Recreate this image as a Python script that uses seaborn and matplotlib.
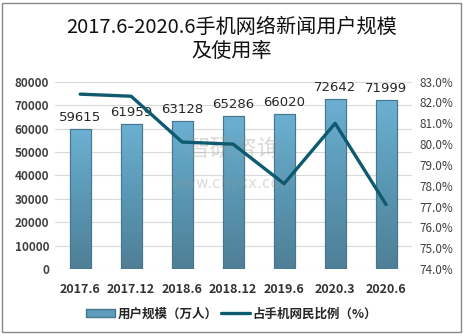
import numpy as np
import pandas as pd
import matplotlib
matplotlib.use("Agg")
import matplotlib.pyplot as plt
import seaborn as sns
from matplotlib.patches import Rectangle
from matplotlib.lines import Line2D
from matplotlib.ticker import FuncFormatter
from matplotlib.colors import LinearSegmentedColormap

categories = ["2017.6", "2017.12", "2018.6", "2018.12", "2019.6", "2020.3", "2020.6"]
users = [59615, 61959, 63128, 65286, 66020, 72642, 71999]
rate = [82.4, 82.3, 80.1, 80.0, 78.1, 81.0, 77.1]
title = "2017.6-2020.6手机网络新闻用户规模\n及使用率"
bar_label = "用户规模（万人）"
line_label = "占手机网民比例（%）"

sns.set_theme(style="white")
plt.rcParams['font.family'] = ['Noto Sans CJK SC', 'DejaVu Sans']

df = pd.DataFrame({"cat": categories, "users": users, "rate": rate})

fig = plt.figure(figsize=(4.63, 3.36), dpi=100)
ax = fig.add_axes([0.118, 0.199, 0.771, 0.558])

sns.barplot(data=df, x="cat", y="users", ax=ax, color="#5d9dbb", width=0.41,
            edgecolor="#3f6f85", linewidth=0.8, saturation=1, zorder=3)
ax.set_ylim(0, 80000)
ax.set_yticks(np.arange(0, 80001, 10000))
ax.grid(axis="y", color="#d9d9d9", linewidth=0.8, zorder=0)
ax.set_axisbelow(True)
for s in ax.spines.values():
    s.set_visible(False)
ax.set_xlabel("")
ax.set_ylabel("")

# gradient fill on bars
grad = np.linspace(0, 1, 256).reshape(-1, 1)
cmap = LinearSegmentedColormap.from_list("g", ["#4f7f96", "#5a97b4", "#6cb0d2"])
for p in list(ax.patches):
    x0, y0 = p.get_x(), p.get_y()
    w, h = p.get_width(), p.get_height()
    im = ax.imshow(grad, extent=[x0, x0 + w, y0, y0 + h], origin="lower",
                   cmap=cmap, aspect="auto", zorder=3.5)
    im.set_clip_path(p)
    ax.add_patch(Rectangle((x0, y0), w, h, fill=False, edgecolor="#46778d",
                           linewidth=0.8, zorder=3.6))
ax.set_xlim(-0.5, len(categories) - 0.5)
ax.set_ylim(0, 80000)

for i, v in enumerate(users):
    ax.text(i, v + 2200, str(v), ha="center", va="bottom", fontsize=9.5,
            color="#262626", family=['DejaVu Sans'], zorder=6)

ax.tick_params(axis="both", length=0, pad=4)
for lab in ax.get_xticklabels():
    lab.set_fontsize(9)
    lab.set_fontweight("bold")
    lab.set_color("#333333")
ax.tick_params(axis="x", pad=10)
for lab in ax.get_yticklabels():
    lab.set_fontsize(8.5)
    lab.set_fontweight("bold")
    lab.set_color("#404040")

ax2 = ax.twinx()
sns.lineplot(x=np.arange(len(categories)), y=rate, ax=ax2, color="#0e5a6f",
             linewidth=2.4, zorder=5)
ax2.set_ylim(74, 83)
ax2.set_yticks(np.arange(74, 83.01, 1))
ax2.yaxis.set_major_formatter(FuncFormatter(lambda v, p: f"{v:.1f}%"))
ax2.tick_params(axis="y", length=0, pad=6)
for lab in ax2.get_yticklabels():
    lab.set_fontsize(8.5)
    lab.set_color("#404040")
for s in ax2.spines.values():
    s.set_visible(False)
ax2.grid(False)
ax2.set_xlim(-0.5, len(categories) - 0.5)

fig.text(0.5, 0.882, title, ha="center", va="center", fontsize=14.5,
         color="#111111", linespacing=1.15)

# watermark
ax.text(3.0, 50500, "智研咨询", ha="center", va="center", fontsize=17,
        color="#999999", alpha=0.35, zorder=7)
ax.text(3.0, 36500, "www.chyxx.com", ha="center", va="center", fontsize=11,
        color="#999999", alpha=0.35, zorder=7, family=['DejaVu Sans'])

handles = [Rectangle((0, 0), 1, 1, facecolor="#5d9dbb", edgecolor="#46778d"),
           Line2D([0], [0], color="#0e5a6f", linewidth=2.4)]
leg = fig.legend(handles, [bar_label, line_label], loc="center",
                 bbox_to_anchor=(0.5, 0.065), ncol=2, frameon=False,
                 prop={"size": 9, "weight": "bold"}, handlelength=2.3,
                 handleheight=0.6, columnspacing=0.3, handletextpad=0.2)
for t in leg.get_texts():
    t.set_color("#262626")

fig.add_artist(Rectangle((0.005, 0.012), 0.99, 0.98, transform=fig.transFigure,
                         fill=False, edgecolor="#888888", linewidth=1.0))

fig.savefig("out.png", dpi=100)
